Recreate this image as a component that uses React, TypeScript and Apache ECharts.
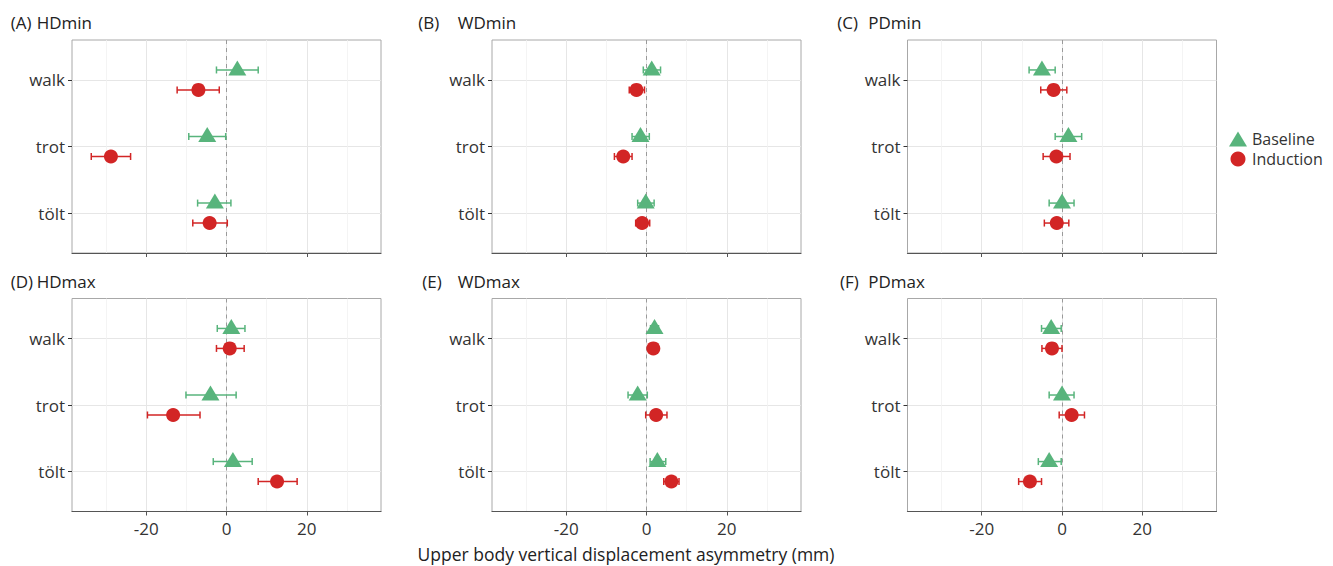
import React, { useEffect, useRef } from "react";
import * as echarts from "echarts";

const GAITS = ["walk", "trot", "tölt"];
const PANEL_LETTERS = ["(A)", "(B)", "(C)", "(D)", "(E)", "(F)"];
const PANEL_NAMES = ["HDmin", "WDmin", "PDmin", "HDmax", "WDmax", "PDmax"];
const X_TICKS = [-20, 0, 20];
const X_MINOR = [-30, -10, 10, 30];
const Y_TICKS = [1, 2, 3];
const X_AXIS_TITLE = "Upper body vertical displacement asymmetry (mm)";
const SERIES_NAMES = ["Baseline", "Induction"];

// [mean, lower, upper] per gait (walk, trot, tölt)
const HDMIN_BASELINE = [[2.7, -2.5, 7.9], [-4.8, -9.4, -0.2], [-2.9, -7.2, 1.1]];
const HDMIN_INDUCTION = [[-7.0, -12.3, -1.8], [-28.8, -33.7, -23.9], [-4.2, -8.4, 0.2]];
const WDMIN_BASELINE = [[1.3, -0.8, 3.5], [-1.5, -3.6, 0.7], [-0.2, -2.2, 1.9]];
const WDMIN_INDUCTION = [[-2.5, -4.3, -0.5], [-5.8, -8.0, -3.6], [-1.1, -2.7, 0.8]];
const PDMIN_BASELINE = [[-5.0, -8.2, -1.7], [1.6, -1.7, 4.9], [0.0, -3.2, 3.0]];
const PDMIN_INDUCTION = [[-2.1, -5.3, 1.2], [-1.4, -4.7, 2.0], [-1.3, -4.4, 1.7]];
const HDMAX_BASELINE = [[1.2, -2.3, 4.6], [-4.0, -10.1, 2.4], [1.6, -3.3, 6.4]];
const HDMAX_INDUCTION = [[0.8, -2.5, 4.4], [-13.3, -19.7, -6.6], [12.6, 7.9, 17.6]];
const WDMAX_BASELINE = [[2.0, 1.0, 3.0], [-2.2, -4.6, 0.2], [2.7, 0.9, 4.8]];
const WDMAX_INDUCTION = [[1.7, 1.0, 2.4], [2.4, -0.2, 5.1], [6.2, 4.3, 8.1]];
const PDMAX_BASELINE = [[-2.7, -5.1, -0.2], [0.0, -3.2, 3.0], [-3.2, -5.9, -0.2]];
const PDMAX_INDUCTION = [[-2.5, -5.0, 0.0], [2.4, -0.7, 5.6], [-8.0, -10.8, -5.1]];

const PANELS = [
  [HDMIN_BASELINE, HDMIN_INDUCTION],
  [WDMIN_BASELINE, WDMIN_INDUCTION],
  [PDMIN_BASELINE, PDMIN_INDUCTION],
  [HDMAX_BASELINE, HDMAX_INDUCTION],
  [WDMAX_BASELINE, WDMAX_INDUCTION],
  [PDMAX_BASELINE, PDMAX_INDUCTION],
];

const FONT = "'Open Sans', 'Noto Sans', sans-serif";
const GREEN = "#58b47c";
const RED = "#d22525";
const COLORS = [GREEN, RED];
const DODGE = 0.15;

const GRID_LEFT = [72, 492, 907.5];
const GRID_TOP = [40, 298.5];
const GRID_W = 309;
const GRID_H = 213;
const TITLE_Y = [22, 281.5];
const TITLE_X = [
  [10.7, 36.7],
  [418.3, 457.7],
  [837.3, 868.3],
  [10.7, 36.7],
  [422.3, 457.7],
  [840, 868.3],
];

function errRender(color: string) {
  return (params: any, api: any) => {
    const y = api.value(2);
    const a = api.coord([api.value(0), y]);
    const b = api.coord([api.value(1), y]);
    const h = 3.5;
    const style = { stroke: color, lineWidth: 1.5, fill: "none" };
    return {
      type: "group",
      children: [
        { type: "line", shape: { x1: a[0], y1: a[1], x2: b[0], y2: b[1] }, style },
        { type: "line", shape: { x1: a[0], y1: a[1] - h, x2: a[0], y2: a[1] + h }, style },
        { type: "line", shape: { x1: b[0], y1: b[1] - h, x2: b[0], y2: b[1] + h }, style },
      ],
    };
  };
}

function buildOption() {
  const grid: any[] = [];
  const xAxis: any[] = [];
  const yAxis: any[] = [];
  const series: any[] = [];
  const graphic: any[] = [];

  PANELS.forEach((panel, i) => {
    const row = Math.floor(i / 3);
    const col = i % 3;
    grid.push({
      left: GRID_LEFT[col],
      top: GRID_TOP[row],
      width: GRID_W,
      height: GRID_H,
      show: true,
      borderColor: "#a8a8a8",
      borderWidth: 1,
      backgroundColor: "#ffffff",
    });
    xAxis.push({
      gridIndex: i,
      type: "value",
      min: -38.5,
      max: 38.5,
      position: "bottom",
      axisLine: { show: true, onZero: false, lineStyle: { color: "#555555", width: 1.2 } },
      axisTick: { show: true, customValues: X_TICKS, length: 4, lineStyle: { color: "#555555" } },
      axisLabel: {
        show: row === 1,
        customValues: X_TICKS,
        color: "#333333",
        fontSize: 17,
        fontFamily: FONT,
        margin: 8,
      },
      splitLine: { show: true, lineStyle: { color: "#e6e6e6", width: 1 } },
    });
    xAxis.push({
      gridIndex: i,
      type: "value",
      min: -38.5,
      max: 38.5,
      position: "top",
      axisLine: { show: false, onZero: false },
      axisTick: { show: false, customValues: X_MINOR },
      axisLabel: { show: false, customValues: X_MINOR },
      splitLine: { show: true, lineStyle: { color: "#f1f1f1", width: 0.8 } },
    });
    yAxis.push({
      gridIndex: i,
      type: "value",
      min: 0.4,
      max: 3.6,
      inverse: true,
      position: "left",
      axisLine: { show: false, onZero: false },
      axisTick: { show: true, customValues: Y_TICKS, length: 4, lineStyle: { color: "#333333" } },
      axisLabel: {
        customValues: Y_TICKS,
        formatter: (v: number) => GAITS[Math.round(v) - 1],
        color: "#333333",
        fontSize: 17,
        fontFamily: FONT,
        margin: 7,
      },
      splitLine: { show: true, lineStyle: { color: "#e6e6e6", width: 1 } },
    });

    panel.forEach((group, g) => {
      const off = g === 0 ? -DODGE : DODGE;
      series.push({
        type: "custom",
        name: SERIES_NAMES[g] + " error " + i,
        xAxisIndex: 2 * i,
        yAxisIndex: i,
        renderItem: errRender(COLORS[g]),
        encode: { x: [0, 1], y: 2 },
        data: group.map((d, k) => [d[1], d[2], k + 1 + off]),
        z: 3,
        silent: true,
      });
    });
    panel.forEach((group, g) => {
      const off = g === 0 ? -DODGE : DODGE;
      const s: any = {
        type: "scatter",
        name: SERIES_NAMES[g],
        xAxisIndex: 2 * i,
        yAxisIndex: i,
        data: group.map((d, k) => [d[0], k + 1 + off]),
        symbol: g === 0 ? "triangle" : "circle",
        symbolSize: g === 0 ? [18, 15] : 14,
        symbolOffset: g === 0 ? [0, -2] : [0, 0],
        itemStyle: { color: COLORS[g], opacity: 1 },
        z: 4,
        silent: true,
      };
      if (g === 0) {
        s.markLine = {
          silent: true,
          symbol: ["none", "none"],
          label: { show: false },
          lineStyle: { type: [4, 4], color: "#9a9a9a", width: 1 },
          data: [{ xAxis: 0 }],
          z: 2,
        };
      }
      series.push(s);
    });

    graphic.push({
      type: "text",
      x: TITLE_X[i][0],
      y: TITLE_Y[row],
      style: { text: PANEL_LETTERS[i], fontSize: 17, fontFamily: FONT, fill: "#222222", verticalAlign: "middle", align: "left" },
    });
    graphic.push({
      type: "text",
      x: TITLE_X[i][1],
      y: TITLE_Y[row],
      style: { text: PANEL_NAMES[i], fontSize: 17, fontFamily: FONT, fill: "#222222", verticalAlign: "middle", align: "left" },
    });
  });

  graphic.push({
    type: "text",
    x: 626,
    y: 554,
    style: { text: X_AXIS_TITLE, fontSize: 17.5, fontFamily: FONT, fill: "#222222", verticalAlign: "middle", align: "center" },
  });

  return {
    animation: false,
    backgroundColor: "#ffffff",
    grid,
    xAxis,
    yAxis,
    series,
    graphic,
    legend: {
      data: SERIES_NAMES,
      orient: "vertical",
      left: 1229,
      top: 131,
      padding: 0,
      itemWidth: 18,
      itemHeight: 15,
      itemGap: 4,
      selectedMode: false,
      textStyle: { fontSize: 16, fontFamily: FONT, color: "#333333", lineHeight: 16 },
    },
  };
}

export default function App() {
  const ref = useRef<HTMLDivElement>(null);
  useEffect(() => {
    if (!ref.current) return;
    const chart = echarts.init(ref.current, undefined, { renderer: "svg" });
    chart.setOption(buildOption() as any);
    return () => chart.dispose();
  }, []);
  return (
    <div
      ref={ref}
      style={{ position: "fixed", left: 0, top: 0, width: 1333, height: 566, background: "#fff" }}
    />
  );
}
